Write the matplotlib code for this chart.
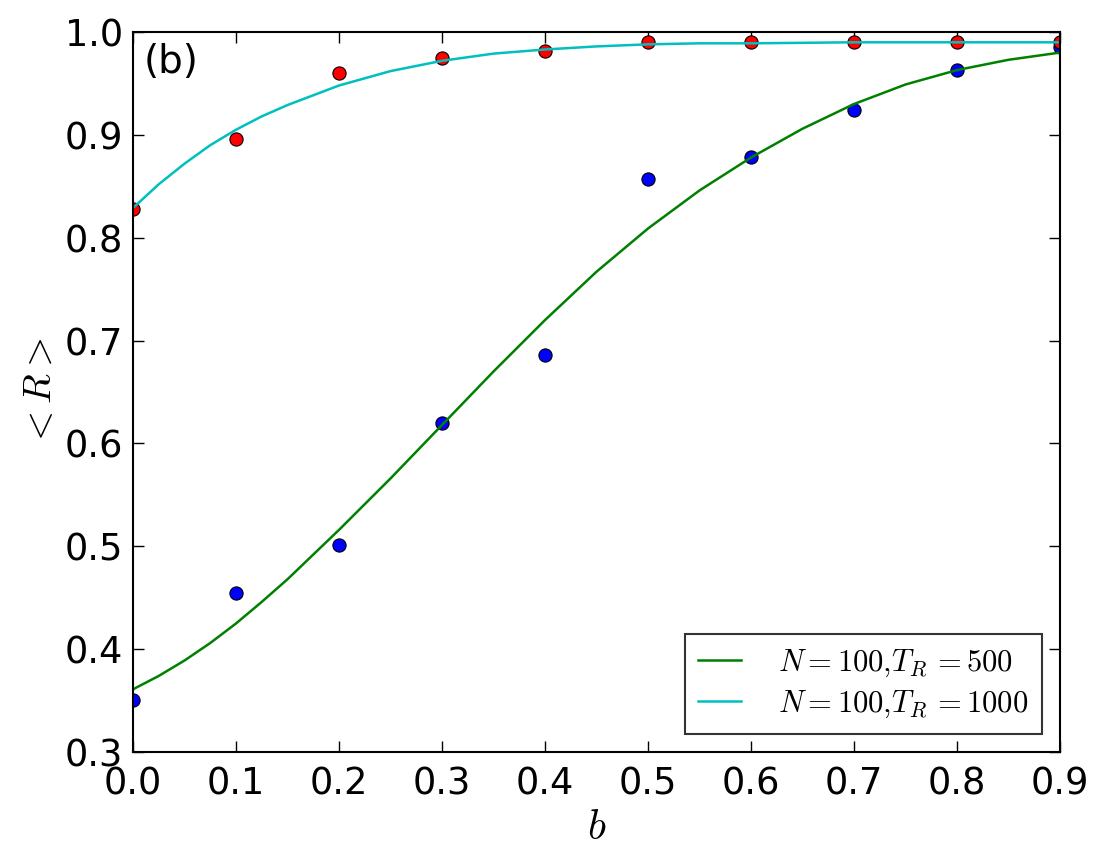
import numpy as np
import matplotlib
matplotlib.use('Agg')
import matplotlib.pyplot as plt

plt.rcParams['mathtext.fontset'] = 'cm'
plt.rcParams['font.family'] = 'DejaVu Sans'

# points mesures
b_points = [0.0, 0.1, 0.2, 0.3, 0.4, 0.5, 0.6, 0.7, 0.8, 0.9]
r_tr500 = [0.351, 0.455, 0.501, 0.620, 0.686, 0.857, 0.878, 0.924, 0.963, 0.985]
r_tr1000 = [0.828, 0.896, 0.960, 0.975, 0.982, 0.990, 0.990, 0.990, 0.990, 0.990]

# courbes d'ajustement
b_fit500 = [0.0, 0.025, 0.05, 0.075, 0.1, 0.125, 0.15, 0.2, 0.25, 0.3, 0.35, 0.4, 0.45,
            0.5, 0.55, 0.6, 0.65, 0.7, 0.75, 0.8, 0.85, 0.9]
fit_tr500 = [0.361, 0.374, 0.389, 0.406, 0.425, 0.446, 0.468, 0.516, 0.566, 0.618,
             0.670, 0.720, 0.767, 0.809, 0.846, 0.878, 0.906, 0.930, 0.949, 0.963,
             0.973, 0.980]
b_fit1000 = [0.0, 0.025, 0.05, 0.075, 0.1, 0.125, 0.15, 0.2, 0.25, 0.3, 0.35,
             0.4, 0.45, 0.5, 0.55, 0.6, 0.7, 0.8, 0.9]
fit_tr1000 = [0.829, 0.852, 0.872, 0.890, 0.905, 0.918, 0.929, 0.948, 0.962, 0.972,
              0.979, 0.983, 0.986, 0.988, 0.989, 0.989, 0.990, 0.990, 0.990]

labels = [r'$N=100{,}T_R\,=500$', r'$N=100{,}T_R\,=1000$']

fig = plt.figure(figsize=(11.03, 8.65), dpi=100)
ax = fig.add_axes([0.1206, 0.1306, 0.8405, 0.8324])

ax.plot(b_points, r_tr500, 'o', color='b', markersize=9.5, markeredgecolor='k',
        markeredgewidth=0.8)
ax.plot(b_points, r_tr1000, 'o', color='r', markersize=9.5, markeredgecolor='k',
        markeredgewidth=0.8)
ax.plot(b_fit500, fit_tr500, '-', color='g', linewidth=1.8, label=labels[0])
ax.plot(b_fit1000, fit_tr1000, '-', color='c', linewidth=1.8, label=labels[1])

ax.set_xlim(0.0, 0.9)
ax.set_ylim(0.3, 1.0)
ax.set_xticks(np.arange(0.0, 0.91, 0.1))
ax.set_yticks(np.arange(0.3, 1.01, 0.1))
ax.xaxis.set_major_formatter(plt.FormatStrFormatter('%.1f'))
ax.yaxis.set_major_formatter(plt.FormatStrFormatter('%.1f'))
ax.tick_params(direction='in', top=True, right=True, length=8, width=1,
               labelsize=26.5)
ax.tick_params(axis='x', pad=10)
ax.tick_params(axis='y', pad=7)
for s in ax.spines.values():
    s.set_linewidth(1.5)

ax.set_xlabel(r'$b$', fontsize=30, labelpad=2)
ax.set_ylabel(r'$<R>$', fontsize=28, labelpad=4)

ax.text(0.011, 0.985, '(b)', transform=ax.transAxes, fontsize=28,
        ha='left', va='top')

leg = ax.legend(loc='lower right', fontsize=22, frameon=True, fancybox=False,
                borderaxespad=0.6, handlelength=1.4, handletextpad=1.2,
                borderpad=0.45, labelspacing=0.3)
leg.get_frame().set_edgecolor('k')
leg.get_frame().set_linewidth(1.5)

fig.savefig('out.png', dpi=100, facecolor='white')
